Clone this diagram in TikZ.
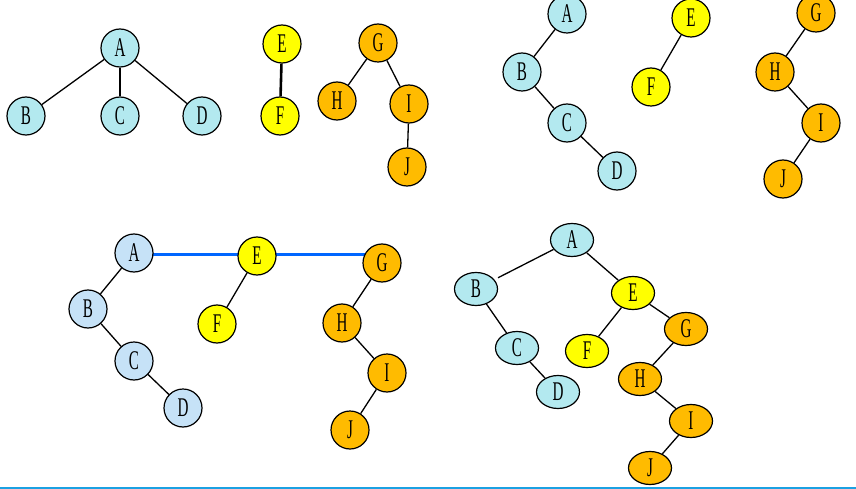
\documentclass[tikz,border=0pt]{standalone}
\usepackage{fontspec}
\setmainfont{Liberation Serif}
\usetikzlibrary{backgrounds,shapes.geometric}
\definecolor{cyanA}{HTML}{B3E9EF}
\definecolor{blueA}{HTML}{C6E2F7}
\definecolor{yelA}{HTML}{FFFF00}
\definecolor{orgA}{HTML}{FFBB00}
\definecolor{lineblue}{HTML}{0066FF}
\definecolor{barblue}{HTML}{1BA1E2}
\newcommand\tlab[1]{\scalebox{0.56}[1]{#1}}
\tikzset{
  vtx/.style={circle,draw=black,line width=1.2pt,minimum size=38pt,inner sep=0pt,
    font=\fontsize{27}{27}\selectfont},
  ovx/.style={ellipse,draw=black,line width=1.2pt,minimum width=43pt,minimum height=33pt,inner sep=0pt,
    font=\fontsize{27}{27}\selectfont},
  cy/.style={fill=cyanA},
  bl/.style={fill=blueA},
  ye/.style={fill=yelA},
  og/.style={fill=orgA},
  thin edge/.style={line width=1.3pt},
  thick edge/.style={line width=2.6pt},
}
\begin{document}
\begin{tikzpicture}[x=1pt,y=-1pt]
\useasboundingbox (0,0) rectangle (856,489);
% panel 1
\node[vtx,cy] (a1) at (120,48) {\tlab{A}};
\node[vtx,cy] (b1) at (26,116) {\tlab{B}};
\node[vtx,cy] (c1) at (120,116) {\tlab{C}};
\node[vtx,cy] (d1) at (202,116) {\tlab{D}};
\node[vtx,ye] (e1) at (282,44) {\tlab{E}};
\node[vtx,ye] (f1) at (280,116) {\tlab{F}};
\node[vtx,og] (g1) at (378,43) {\tlab{G}};
\node[vtx,og] (h1) at (337,101) {\tlab{H}};
\node[vtx,og] (i1) at (409,104) {\tlab{I}};
\node[vtx,og] (j1) at (407,167) {\tlab{J}};
\draw[thin edge] (a1) -- (b1);
\draw[thick edge] (a1) -- (c1);
\draw[thin edge] (a1) -- (d1);
\draw[thick edge] (e1) -- (f1);
\draw[thin edge] (g1) -- (h1);
\draw[thin edge] (g1) -- (i1);
\draw[thin edge] (i1) -- (j1);
% panel 2
\node[vtx,cy] (a2) at (567,14) {\tlab{A}};
\node[vtx,cy] (b2) at (522,72) {\tlab{B}};
\node[vtx,cy] (c2) at (567,123) {\tlab{C}};
\node[vtx,cy] (d2) at (617,171) {\tlab{D}};
\node[vtx,ye] (e2) at (691,18) {\tlab{E}};
\node[vtx,ye] (f2) at (651,87) {\tlab{F}};
\node[vtx,og] (g2) at (816,13) {\tlab{G}};
\node[vtx,og] (h2) at (775,72) {\tlab{H}};
\node[vtx,og] (i2) at (821,123) {\tlab{I}};
\node[vtx,og] (j2) at (783,179) {\tlab{J}};
\draw[thin edge] (a2) -- (b2);
\draw[thin edge] (b2) -- (c2);
\draw[thin edge] (c2) -- (d2);
\draw[thin edge] (e2) -- (f2);
\draw[thin edge] (g2) -- (h2);
\draw[thin edge] (h2) -- (i2);
\draw[thin edge] (i2) -- (j2);
% panel 3
\node[vtx,bl] (a3) at (134,253) {\tlab{A}};
\node[vtx,bl] (b3) at (88,309) {\tlab{B}};
\node[vtx,bl] (c3) at (134,361) {\tlab{C}};
\node[vtx,bl] (d3) at (183,408) {\tlab{D}};
\node[vtx,ye] (e3) at (257,256) {\tlab{E}};
\node[vtx,ye] (f3) at (217,324) {\tlab{F}};
\node[vtx,og] (g3) at (382,263) {\tlab{G}};
\node[vtx,og] (h3) at (342,323) {\tlab{H}};
\node[vtx,og] (i3) at (387,373) {\tlab{I}};
\node[vtx,og] (j3) at (350,430) {\tlab{J}};
\begin{scope}[on background layer]
\draw[lineblue,line width=3pt] ([yshift=-1pt]a3.center) -- ([yshift=-1pt]a3.center -| g3.center);
\end{scope}
\draw[thin edge] (a3) -- (b3);
\draw[thin edge] (b3) -- (c3);
\draw[thin edge] (c3) -- (d3);
\draw[thin edge] (e3) -- (f3);
\draw[thin edge] (g3) -- (h3);
\draw[thin edge] (h3) -- (i3);
\draw[thin edge] (i3) -- (j3);
% panel 4
\node[ovx,cy] (a4) at (572,240) {\tlab{A}};
\node[ovx,cy] (b4) at (476,289) {\tlab{B}};
\node[ovx,cy] (c4) at (517,348) {\tlab{C}};
\node[ovx,cy] (d4) at (558,392) {\tlab{D}};
\node[ovx,ye] (e4) at (633,293) {\tlab{E}};
\node[ovx,ye] (f4) at (587,351) {\tlab{F}};
\node[ovx,og] (g4) at (686,329) {\tlab{G}};
\node[ovx,og] (h4) at (640,379) {\tlab{H}};
\node[ovx,og] (i4) at (691,421) {\tlab{I}};
\node[ovx,og] (j4) at (650,468) {\tlab{J}};
\draw[thin edge,shorten >=4pt] (a4) -- (b4);
\draw[thin edge] (b4) -- (c4);
\draw[thin edge] (c4) -- (d4);
\draw[thin edge] (a4) -- (e4);
\draw[thin edge] (e4) -- (f4);
\draw[thin edge] (e4) -- (g4);
\draw[thin edge] (g4) -- (h4);
\draw[thin edge] (h4) -- (i4);
\draw[thin edge] (i4) -- (j4);
% bottom bar
\coordinate (barL) at (0,488);
\coordinate (barR) at (856,488);
\draw[barblue,line width=2.5pt] (barL) -- (barR);
\end{tikzpicture}
\end{document}
